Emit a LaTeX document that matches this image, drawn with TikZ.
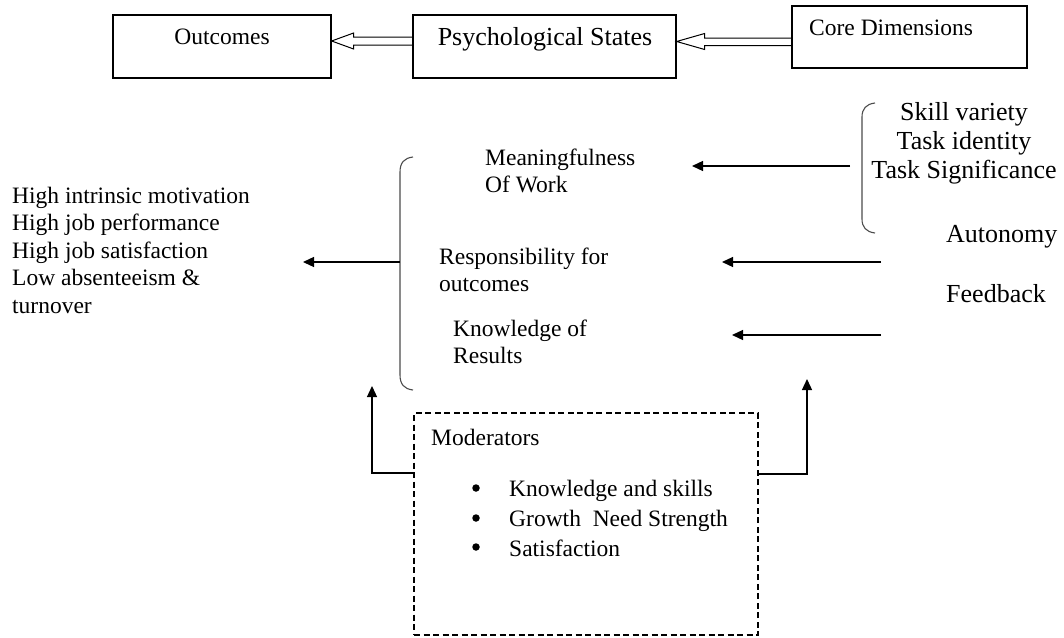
\documentclass[tikz,border=0pt]{standalone}
\usepackage{fontspec}
\setmainfont{Liberation Serif}
\usetikzlibrary{arrows.meta,calc}

\tikzset{
  box/.style={draw, line width=1.2pt, inner sep=0pt},
  modbox/.style={draw, line width=1.1pt, dash pattern=on 6pt off 3.5pt, inner sep=0pt},
  txt/.style={font=\fontsize{23.5}{27.5}\selectfont, inner sep=0pt, align=left},
  bigtxt/.style={font=\fontsize{26}{29}\selectfont, inner sep=0pt, align=center},
  hollow/.style={line width=1pt, line join=miter},
  arr/.style={line width=1.3pt, -{Triangle[length=11pt,width=10pt]}},
  brace/.style={line width=1.1pt, draw=black!70},
  dot/.style={circle, fill=black, inner sep=0pt, minimum size=7.5pt},
}

\begin{document}
\begin{tikzpicture}[x=1pt, y=-1pt]
\useasboundingbox (0,0) rectangle (1064,637);

% ---- header row ----
\node[box, minimum width=218pt, minimum height=63pt] (oc) at (222,46.5) {};
\node[txt] (octxt) at (222,37) {Outcomes};
\node[box, minimum width=263pt, minimum height=63pt] (ps) at (544.5,46.5) {};
\node[bigtxt] (pstxt) at (545,39) {Psychological States};
\node[box, minimum width=235pt, minimum height=62pt] (cd) at (909.5,37) {};
\node[txt, anchor=west] (cdtxt) at (809,28) {Core Dimensions};

% hollow arrows between the header boxes
\draw[hollow] ($(ps.west)+(0,-9.5)$) -- ($(oc.east)+(22,-9.5)$) -- ($(oc.east)+(22,-13.5)$)
  -- ($(oc.east)+(0,-5.5)$) -- ($(oc.east)+(22,2.5)$) -- ($(oc.east)+(22,-1.5)$) -- ($(ps.west)+(0,-1.5)$);
\draw[hollow] ($(cd.west)+(0,1)$) -- ($(ps.east)+(28,-8.5)$) -- ($(ps.east)+(28,-13)$)
  -- ($(ps.east)+(0,-5)$) -- ($(ps.east)+(28,3)$) -- ($(ps.east)+(28,-1)$) -- ($(cd.west)+(0,8.5)$);

% ---- outcomes ----
\node[txt, anchor=west] (res) at (12,250) {High intrinsic motivation\\High job performance\\High job satisfaction\\Low absenteeism \&\\turnover};

% ---- psychological states ----
\node[txt, anchor=west] (mw) at (485,171) {Meaningfulness\\Of Work};
\node[txt, anchor=west] (rf) at (439,270) {Responsibility for\\outcomes};
\node[txt, anchor=west] (kr) at (453,342) {Knowledge of\\Results};

% bracket grouping the states
\draw[brace] (413,157) .. controls (404,158) and (400,163) .. (400,172) -- (400,375)
  .. controls (400,384) and (404,389) .. (413,390);
\coordinate (lbm) at (400,262);
\coordinate (resin) at (303,262);
\draw[arr] (lbm) -- (resin);

% ---- core dimensions ----
\node[bigtxt] (dims) at (964,143) {Skill variety\\Task identity\\Task Significance};
\node[bigtxt, anchor=west] (auto) at (946,237) {Autonomy};
\node[bigtxt, anchor=west] (fb) at (946,294) {Feedback};

\draw[brace] (875,103) .. controls (866,104) and (862,109) .. (862,117) -- (862,219)
  .. controls (862,227) and (866,232) .. (875,233);

\coordinate (rbm) at (850,166);
\coordinate (mwin) at (692,166);
\coordinate (autoout) at (881,262);
\coordinate (rfin) at (722,262);
\coordinate (fbout) at (881,335);
\coordinate (krin) at (732,335);
\draw[arr] (rbm) -- (mwin);
\draw[arr] (autoout) -- (rfin);
\draw[arr] (fbout) -- (krin);

% ---- moderators ----
\node[modbox, minimum width=344pt, minimum height=222pt] (mod) at (586,524) {};
\node[txt, anchor=west] (modtxt) at (431,437) {Moderators};
\node[txt, anchor=west, font=\fontsize{23.5}{30}\selectfont] (items) at (509,518)
  {Knowledge and skills\\Growth\ \ Need Strength\\Satisfaction};
\node[dot] (b1) at (476,488) {};
\node[dot] (b2) at (476,518) {};
\node[dot] (b3) at (476,547) {};

\coordinate (lup) at (372,386);
\coordinate (rup) at (807,379);
\draw[arr] ($(mod.west)+(0,-51)$) -| (lup);
\draw[arr] ($(mod.east)+(0,-50)$) -| (rup);
\end{tikzpicture}
\end{document}
